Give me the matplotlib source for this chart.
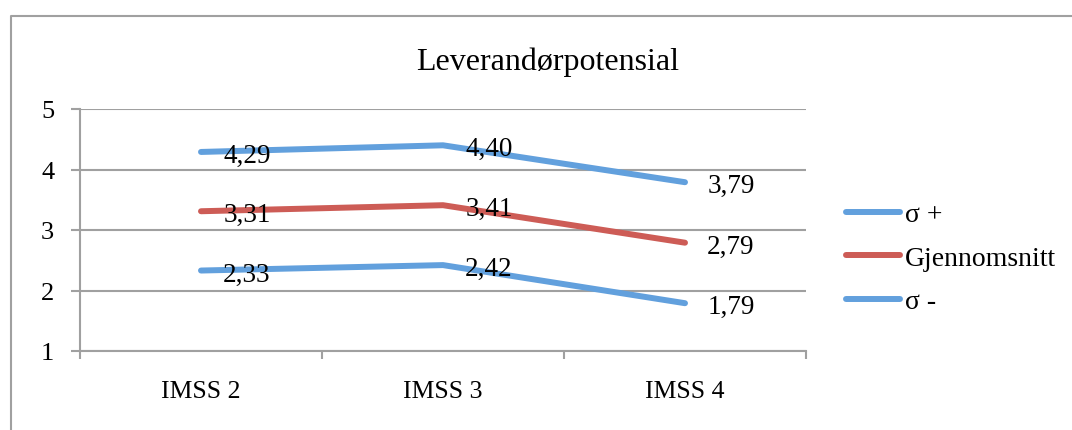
import matplotlib.pyplot as plt
from matplotlib.lines import Line2D
from matplotlib.ticker import FixedLocator, NullFormatter

plt.rcParams['font.family'] = ['Liberation Serif', 'DejaVu Serif']

# Data
kategorier = ["IMSS 2", "IMSS 3", "IMSS 4"]
sigma_pluss = [4.29, 4.40, 3.79]
gjennomsnitt = [3.31, 3.41, 2.79]
sigma_minus = [2.33, 2.42, 1.79]
serienavn = ["σ +", "Gjennomsnitt", "σ -"]

blaa = '#62A0DD'
roed = '#CD5C56'
graa = '#A0A0A0'

W, H = 1072, 431
fig = plt.figure(figsize=(W / 100, H / 100), dpi=100)
fig.patch.set_facecolor('white')

# plot area in pixels: x 80..806, y 110..352
ax = fig.add_axes([80 / W, 1 - 352 / H, (806 - 80) / W, (352 - 110) / H])

x = list(range(len(kategorier)))
serier = [sigma_pluss, gjennomsnitt, sigma_minus]
farger = [blaa, roed, blaa]
linjer = []
for verdier, farge, navn in zip(serier, farger, serienavn):
    l, = ax.plot(x, verdier, color=farge, lw=4.3, solid_capstyle='round',
                 solid_joinstyle='round', label=navn, zorder=3)
    linjer.append(l)
    for xi, v in zip(x, verdier):
        ax.annotate(f"{v:.2f}".replace('.', ','), (xi, v), xytext=(16, -2.5),
                    textcoords='offset points', ha='left', va='center',
                    fontsize=19.5, zorder=4)

ax.set_xlim(-0.5, 2.5)
ax.set_ylim(1, 5)
ax.set_yticks([1, 2, 3, 4, 5])
ax.yaxis.grid(True, color=graa, lw=1.5)
ax.set_axisbelow(True)

# category boundaries as tick marks, labels in the middle
ax.xaxis.set_major_locator(FixedLocator([-0.5, 0.5, 1.5, 2.5]))
ax.xaxis.set_major_formatter(NullFormatter())
ax.set_xticks(x, minor=True)
ax.set_xticklabels(kategorier, minor=True, fontsize=18.5)
ax.tick_params(axis='x', which='major', direction='out', length=6, width=1.5, color=graa)
ax.tick_params(axis='x', which='minor', length=0, pad=21)
ax.tick_params(axis='y', direction='out', length=6.5, width=1.5, color=graa,
               labelsize=19, pad=12)

for s in ['top', 'right']:
    ax.spines[s].set_visible(False)
for s in ['left', 'bottom']:
    ax.spines[s].set_color(graa)
    ax.spines[s].set_linewidth(1.5)

fig.text(548 / W, 1 - 70 / H, "Leverandørpotensial", ha='center', va='baseline', fontsize=23)

fig.legend(handles=linjer, loc='center left', bbox_to_anchor=(846 / W, 1 - 259 / H),
           frameon=False, fontsize=20, handlelength=1.94, handletextpad=0.18,
           labelspacing=0.65, borderpad=0, borderaxespad=0)

# chart frame
fig.add_artist(Line2D([10.5 / W, 10.5 / W, 1], [0, 1 - 16.5 / H, 1 - 16.5 / H],
                      transform=fig.transFigure, color=graa, lw=1.5))

fig.savefig('out.png', dpi=100)
